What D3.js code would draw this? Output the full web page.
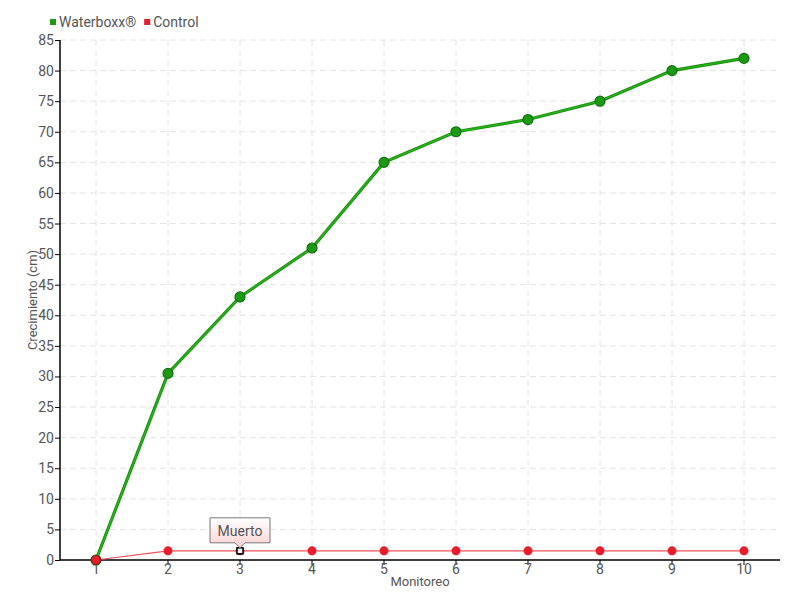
<!DOCTYPE html>
<html><head><meta charset="utf-8">
<script src="https://cdn.jsdelivr.net/npm/d3@7"></script>
<style>
body{margin:0;background:#fff;}
svg{display:block;}
text{font-family:Roboto,"Open Sans",sans-serif;}
</style></head>
<body><svg id="c" width="800" height="600"></svg>
<script>
const categories = ["1","2","3","4","5","6","7","8","9","10"];
const waterboxx = [0, 30.5, 43, 51, 65, 70, 72, 75, 80, 82];
const control = [0, 1.5, 1.5, 1.5, 1.5, 1.5, 1.5, 1.5, 1.5, 1.5];
const yTicks = d3.range(0, 86, 5);
const seriesNames = ["Waterboxx®", "Control"];
const annotation = {series: "Control", index: 2, label: "Muerto"};

const svg = d3.select("#c");
const m = {l:60, r:20, t:40, b:40};
const W = 800, H = 600;
const FONT = 'Roboto,"Open Sans",sans-serif';
const x = d3.scaleBand().domain(categories).range([m.l, W - m.r]);
const cx = d => x(d) + x.bandwidth()/2;
const y = d3.scaleLinear().domain([0, 85]).range([H - m.b, m.t]);

// grid
const g = svg.append("g");
g.selectAll(".hg").data(yTicks).join("line")
  .attr("x1", m.l).attr("x2", W - m.r)
  .attr("y1", d => y(d)).attr("y2", d => y(d))
  .attr("stroke", "#e2e2e2").attr("stroke-dasharray", "6,4");
g.selectAll(".vg").data(categories).join("line")
  .attr("x1", d => cx(d)).attr("x2", d => cx(d))
  .attr("y1", m.t).attr("y2", H - m.b)
  .attr("stroke", "#e2e2e2").attr("stroke-dasharray", "6,4");

// axes
const yAxis = svg.append("g").attr("transform", `translate(${m.l},0)`)
  .call(d3.axisLeft(y).tickValues(yTicks).tickSize(5).tickPadding(1));
const xAxis = svg.append("g").attr("transform", `translate(0,${H - m.b})`)
  .call(d3.axisBottom(x).tickSize(5).tickPadding(-1));
[yAxis, xAxis].forEach(a => {
  a.select(".domain").attr("stroke", "#000").attr("stroke-width", 1.5);
  a.selectAll(".tick line").attr("stroke", "#000");
  a.selectAll("text").attr("fill", "#555").attr("font-size", 14)
    .attr("font-family", FONT);
});
yAxis.select(".domain").attr("d", `M0,${m.t}V${H - m.b}`);
xAxis.select(".domain").attr("d", `M${m.l},0H${W - m.r}`);

// axis titles
svg.append("text").attr("transform", `translate(37,${(m.t + H - m.b)/2}) rotate(-90)`)
  .attr("text-anchor", "middle").attr("fill", "#555").attr("font-size", 13)
  .text("Crecimiento (cm)");
svg.append("text").attr("x", (m.l + W - m.r)/2).attr("y", 586)
  .attr("text-anchor", "middle").attr("fill", "#555").attr("font-size", 13)
  .text("Monitoreo");

// lines
const line = d3.line().x((d, i) => cx(categories[i])).y(d => y(d));
svg.append("path").datum(waterboxx).attr("d", line)
  .attr("fill", "none").attr("stroke", "#1e8c14").attr("stroke-width", 3.2);
svg.append("path").datum(waterboxx).attr("d", line)
  .attr("fill", "none").attr("stroke", "#24b516").attr("stroke-width", 1.4);
svg.append("path").datum(control).attr("d", line)
  .attr("fill", "none").attr("stroke", "#f0505a").attr("stroke-width", 1.2);

// points
svg.selectAll(".wp").data(waterboxx).join("circle")
  .attr("cx", (d, i) => cx(categories[i])).attr("cy", d => y(d)).attr("r", 5)
  .attr("fill", "#1c9a12").attr("stroke", "#137010").attr("stroke-width", 1.2);
svg.selectAll(".cp").data(control).join("circle")
  .attr("cx", (d, i) => cx(categories[i])).attr("cy", d => y(d)).attr("r", 4.5)
  .attr("fill", "#ea1c2a").attr("stroke", (d, i) => i === 0 ? "#a01818" : "none").attr("stroke-width", 1);

// annotation marker
const ax = cx(categories[annotation.index]), ay = y(control[annotation.index]);
svg.append("rect").attr("x", ax - 3).attr("y", ay - 3).attr("width", 6).attr("height", 6)
  .attr("fill", "#fff").attr("stroke", "#000").attr("stroke-width", 1.5);

// tooltip
const defs = svg.append("defs");
const grad = defs.append("linearGradient").attr("id", "tg").attr("x1", 0).attr("y1", 0).attr("x2", 0).attr("y2", 1);
grad.append("stop").attr("offset", "0%").attr("stop-color", "#ffffff");
grad.append("stop").attr("offset", "100%").attr("stop-color", "#fcd2d2");
const bw = 60, bh = 25, by = ay - 33;
svg.append("path")
  .attr("d", `M${ax - bw/2},${by} H${ax + bw/2} V${by + bh} H${ax + 5} L${ax},${by + bh + 5} L${ax - 5},${by + bh} H${ax - bw/2} Z`)
  .attr("fill", "url(#tg)").attr("stroke", "#777").attr("stroke-width", 1);
svg.append("text").attr("x", ax).attr("y", by + 18).attr("text-anchor", "middle")
  .attr("fill", "#555").attr("font-size", 14).text(annotation.label);

// legend
const colors = ["#1c9a12", "#ea1c2a"];
const lg = svg.append("g");
let lx = 50;
seriesNames.forEach((s, i) => {
  lg.append("rect").attr("x", lx).attr("y", 19).attr("width", 6).attr("height", 6).attr("fill", colors[i]);
  const t = lg.append("text").attr("x", lx + 9).attr("y", 27).attr("fill", "#555").attr("font-size", 14).text(s);
  lx += 9 + t.node().getComputedTextLength() + 8;
});
</script></body></html>
